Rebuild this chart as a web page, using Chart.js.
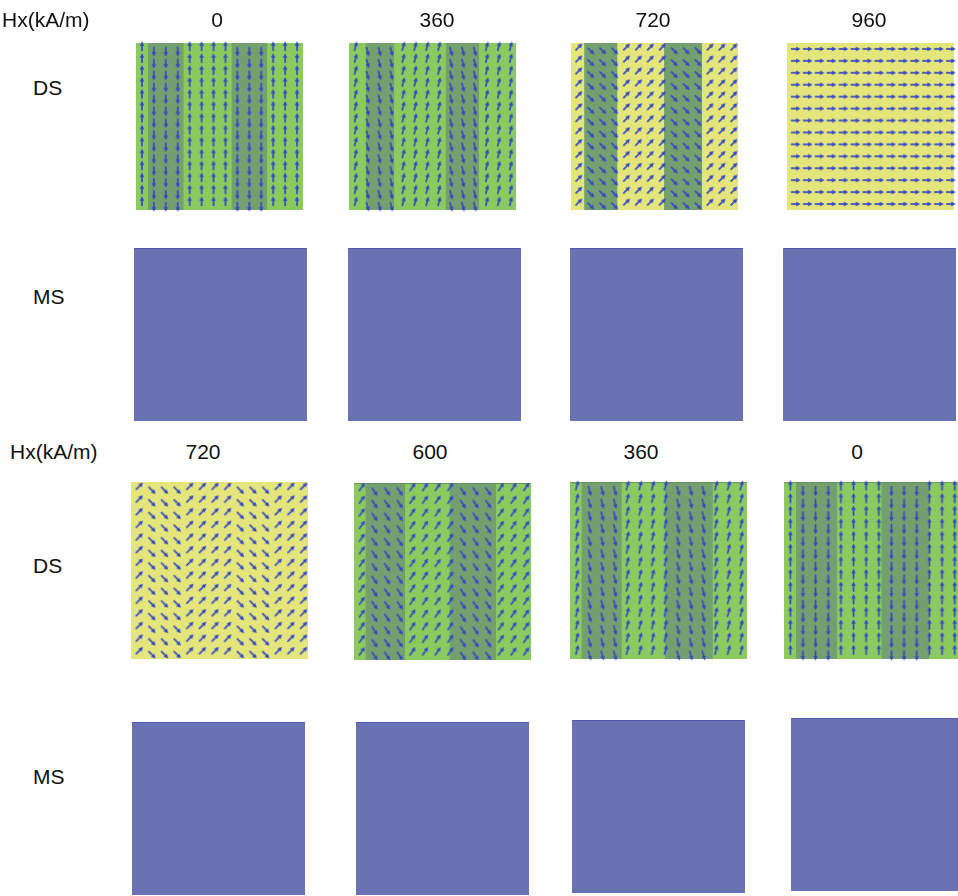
<!DOCTYPE html>
<html>
<head>
<meta charset="utf-8">
<script src="https://cdn.jsdelivr.net/npm/chart.js@4.4.1/dist/chart.umd.min.js"></script>
<style>
  html, body { margin: 0; padding: 0; background: #fff; }
  #fig { position: relative; width: 958px; height: 896px; overflow: hidden;
         font-family: 'Liberation Sans', Arial, sans-serif; color: #111; }
  .lbl { position: absolute; font-size: 21px; white-space: nowrap; transform: translate(-50%, -50%); z-index: 2; }
  .side { position: absolute; font-size: 21px; white-space: nowrap; transform: translateY(-50%); z-index: 2; }
  canvas { position: absolute; }
</style>
</head>
<body>
<div id="fig"></div>
<script>
// ---- data ----
const GRID = 14; // simulation cells per side
const topFields = ['0', '360', '720', '960'];
const bottomFields = ['720', '600', '360', '0'];
const rowNames = ['DS', 'MS'];

// cell columns that belong to the reversed domains (1) vs main domains (0)
const domainPattern = [0, 1, 1, 1, 0, 0, 0, 0, 1, 1, 1, 0, 0, 0];

// moment direction, degrees clockwise from up: [main domain, reversed domain]
const topAngles = [[0, 180], [15, 165], [45, 135], [90, 90]];
const bottomAngles = [[45, 135], [35, 145], [15, 165], [0, 180]];

// reversed-domain stripes, [from, to] in cell units
const topStripes = [[[1, 4], [8, 11]], [[1.4, 3.8], [8.1, 10.9]], [[1.1, 3.9], [7.8, 11]], []];
const bottomStripes = [[], [[0.9, 4.05], [7.55, 11.25]], [[0.9, 4.1], [7.5, 11.3]], [[0.95, 4.2], [7.7, 11.5]]];

// background phase of each DS panel
const topPhase = ['g', 'g', 'y', 'y'];
const bottomPhase = ['y', 'g', 'g', 'g'];

// MS panels: uniform level (fraction of the panel)
const msTop = [1, 1, 1, 1];
const msBottom = [1, 1, 1, 1];

// ---- layout (pixels) ----
const PAD = 16;
const topDSBox = [[136, 43, 167], [349, 43, 167], [571, 43, 167], [787, 43, 167]];
const topMSBox = [[134, 248, 173], [348, 248, 173], [570, 248, 173], [783, 248, 173]];
const botDSBox = [[131, 482, 177], [354, 483, 177], [570, 482, 177], [784, 482, 177]];
const botMSBox = [[132, 722, 173], [356, 722, 173], [572, 720, 173], [791, 718, 173]];
const topLabelX = [217, 437, 653, 869];
const botLabelX = [203, 430, 641, 857];

const GREEN = '#8bca5f';
const STRIPE = '#73a06e';
const YELLOW = '#e4e57b';
const MSBLUE = '#6b72b3';
const ARROW = '#3548c6';

const fig = document.getElementById('fig');

function addText(text, x, y, cls) {
  const d = document.createElement('div');
  d.className = cls;
  d.textContent = text;
  d.style.left = x + 'px';
  d.style.top = y + 'px';
  fig.appendChild(d);
}

function makeArrow(len) {
  const s = Math.ceil(2 * len + 8);
  const c = document.createElement('canvas');
  c.width = s; c.height = s;
  const g = c.getContext('2d');
  const m = s / 2;
  const tail = m + len * 0.15, tip = m - len * 0.85;
  g.strokeStyle = ARROW; g.fillStyle = ARROW;
  g.lineWidth = 1.7; g.lineCap = 'round';
  g.beginPath(); g.moveTo(m, tail); g.lineTo(m, tip + 3); g.stroke();
  g.beginPath();
  g.moveTo(m, tip);
  g.lineTo(m - 2.3, tip + 4.4);
  g.lineTo(m + 2.3, tip + 4.4);
  g.closePath(); g.fill();
  return c;
}

function rectSet(x0, x1, h, color, order, edge) {
  return {
    type: 'line',
    data: [{ x: x0, y: h }, { x: x1, y: h }],
    fill: 'origin',
    backgroundColor: color,
    borderColor: edge || color,
    borderWidth: edge ? 1.5 : 0,
    pointRadius: 0,
    tension: 0,
    order: order
  };
}

function panelChart(box, datasets) {
  const [left, top, size] = box;
  const cv = document.createElement('canvas');
  cv.width = size + 2 * PAD; cv.height = size + 2 * PAD;
  cv.style.left = (left - PAD) + 'px';
  cv.style.top = (top - PAD) + 'px';
  fig.appendChild(cv);
  return new Chart(cv, {
    type: 'scatter',
    data: { datasets: datasets },
    options: {
      responsive: false,
      animation: false,
      events: [],
      layout: { padding: PAD },
      plugins: { legend: { display: false }, tooltip: { enabled: false } },
      scales: {
        x: { type: 'linear', min: 0, max: GRID, display: false },
        y: { type: 'linear', min: 0, max: GRID, display: false }
      }
    }
  });
}

function dsPanel(box, phase, stripes, angles, arrowImg, edge) {
  const sets = [rectSet(0, GRID, GRID, phase === 'y' ? YELLOW : GREEN, 3, edge)];
  stripes.forEach(s => sets.push(rectSet(s[0], s[1], GRID, STRIPE, 2, edge)));
  const pts = [], rot = [];
  for (let r = 0; r < GRID; r++) {
    for (let c = 0; c < GRID; c++) {
      pts.push({ x: c + 0.5, y: GRID - r - 0.5 });
      rot.push(angles[domainPattern[c]]);
    }
  }
  sets.push({
    data: pts,
    pointStyle: arrowImg,
    pointRotation: rot,
    clip: false,
    order: 0
  });
  panelChart(box, sets);
}

function msPanel(box, level) {
  panelChart(box, [rectSet(0, GRID, level * GRID, MSBLUE, 1, '#4b52a8')]);
}

const arrowTop = makeArrow(9);
const arrowBot = makeArrow(9.5);

topFields.forEach((f, i) => {
  dsPanel(topDSBox[i], topPhase[i], topStripes[i], topAngles[i], arrowTop, null);
  msPanel(topMSBox[i], msTop[i]);
  addText(f, topLabelX[i], 20, 'lbl');
});
bottomFields.forEach((f, i) => {
  dsPanel(botDSBox[i], bottomPhase[i], bottomStripes[i], bottomAngles[i], arrowBot, i > 0 ? '#5e8a55' : null);
  msPanel(botMSBox[i], msBottom[i]);
  addText(f, botLabelX[i], 452, 'lbl');
});

addText('Hx(kA/m)', 2, 20, 'side');
addText('Hx(kA/m)', 10, 452, 'side');
addText(rowNames[0], 33, 88, 'side');
addText(rowNames[1], 33, 297, 'side');
addText(rowNames[0], 33, 566, 'side');
addText(rowNames[1], 33, 777, 'side');
</script>
</body>
</html>
